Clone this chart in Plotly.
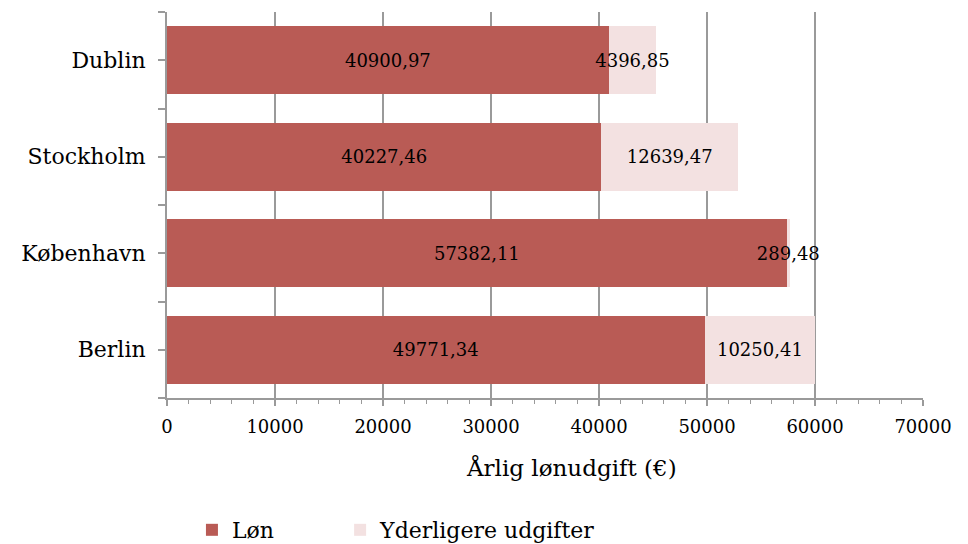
import plotly.graph_objects as go

# Annual salary cost per city (EUR)
cities = ["Berlin", "København", "Stockholm", "Dublin"]
loen = [49771.34, 57382.11, 40227.46, 40900.97]
ekstra = [10250.41, 289.48, 12639.47, 4396.85]
x_ticks = [0, 10000, 20000, 30000, 40000, 50000, 60000, 70000]

FONT = "DejaVu Serif"
DARK = "#B95B55"
LIGHT = "#F3E1E1"
GRAY = "#9A9A9A"


def fmt(v):
    return f"{v:.2f}".replace(".", ",")


pos = list(range(len(cities)))

fig = go.Figure()
fig.add_trace(go.Bar(
    y=pos, x=loen, orientation="h", name="Løn", legend="legend",
    marker=dict(color=DARK, line=dict(width=0)),
    text=[fmt(v) for v in loen], textposition="inside",
    insidetextanchor="middle", textangle=0, constraintext="none",
    textfont=dict(family=FONT, size=18, color="black"),
    width=0.7, cliponaxis=False,
))
fig.add_trace(go.Bar(
    y=pos, x=ekstra, orientation="h", name="Yderligere udgifter", legend="legend2",
    marker=dict(color=LIGHT, line=dict(width=0)),
    text=[fmt(v) for v in ekstra], textposition="inside",
    insidetextanchor="middle", textangle=0, constraintext="none",
    textfont=dict(family=FONT, size=18, color="black"),
    width=0.7, cliponaxis=False,
))

legend_common = dict(
    orientation="h", yanchor="middle", y=-0.342,
    font=dict(family=FONT, size=22), itemwidth=30,
    bgcolor="rgba(0,0,0,0)",
)

fig.update_layout(
    barmode="stack",
    width=968, height=544,
    margin=dict(l=167, r=45, t=12, b=146, autoexpand=False),
    paper_bgcolor="white", plot_bgcolor="white",
    font=dict(family=FONT, size=18, color="black"),
    showlegend=True,
    legend=dict(x=0.033, xanchor="left", **legend_common),
    legend2=dict(x=0.229, xanchor="left", **legend_common),
    annotations=[dict(
        text="Årlig lønudgift (€)", xref="paper", yref="paper",
        x=0.535, y=-0.181, xanchor="center", yanchor="middle",
        showarrow=False, font=dict(family=FONT, size=23),
    )],
)

fig.update_xaxes(
    range=[0, 70000], tickvals=x_ticks, ticktext=[str(v) for v in x_ticks],
    showgrid=True, gridcolor=GRAY, gridwidth=1.5,
    showline=True, linecolor=GRAY, linewidth=2,
    ticks="outside", ticklen=6, tickcolor=GRAY, tickwidth=1.5,
    minor=dict(dtick=2000, tick0=0, ticks="outside", ticklen=4,
               tickcolor=GRAY, tickwidth=1.2, showgrid=False),
    tickfont=dict(family=FONT, size=18), ticklabelstandoff=5,
    zeroline=False, fixedrange=True,
)
fig.update_yaxes(
    range=[-0.5, 3.5], tickvals=pos, ticktext=cities,
    showgrid=False, showline=True, linecolor=GRAY, linewidth=2,
    ticks="outside", ticklen=7, tickcolor=GRAY, tickwidth=1.5,
    minor=dict(tickvals=[-0.5, 0.5, 1.5, 2.5, 3.5], ticks="outside", ticklen=7,
               tickcolor=GRAY, tickwidth=1.5, showgrid=False),
    tickfont=dict(family=FONT, size=22), ticklabelstandoff=8,
    zeroline=False, fixedrange=True,
)

fig.write_html("out.html")
